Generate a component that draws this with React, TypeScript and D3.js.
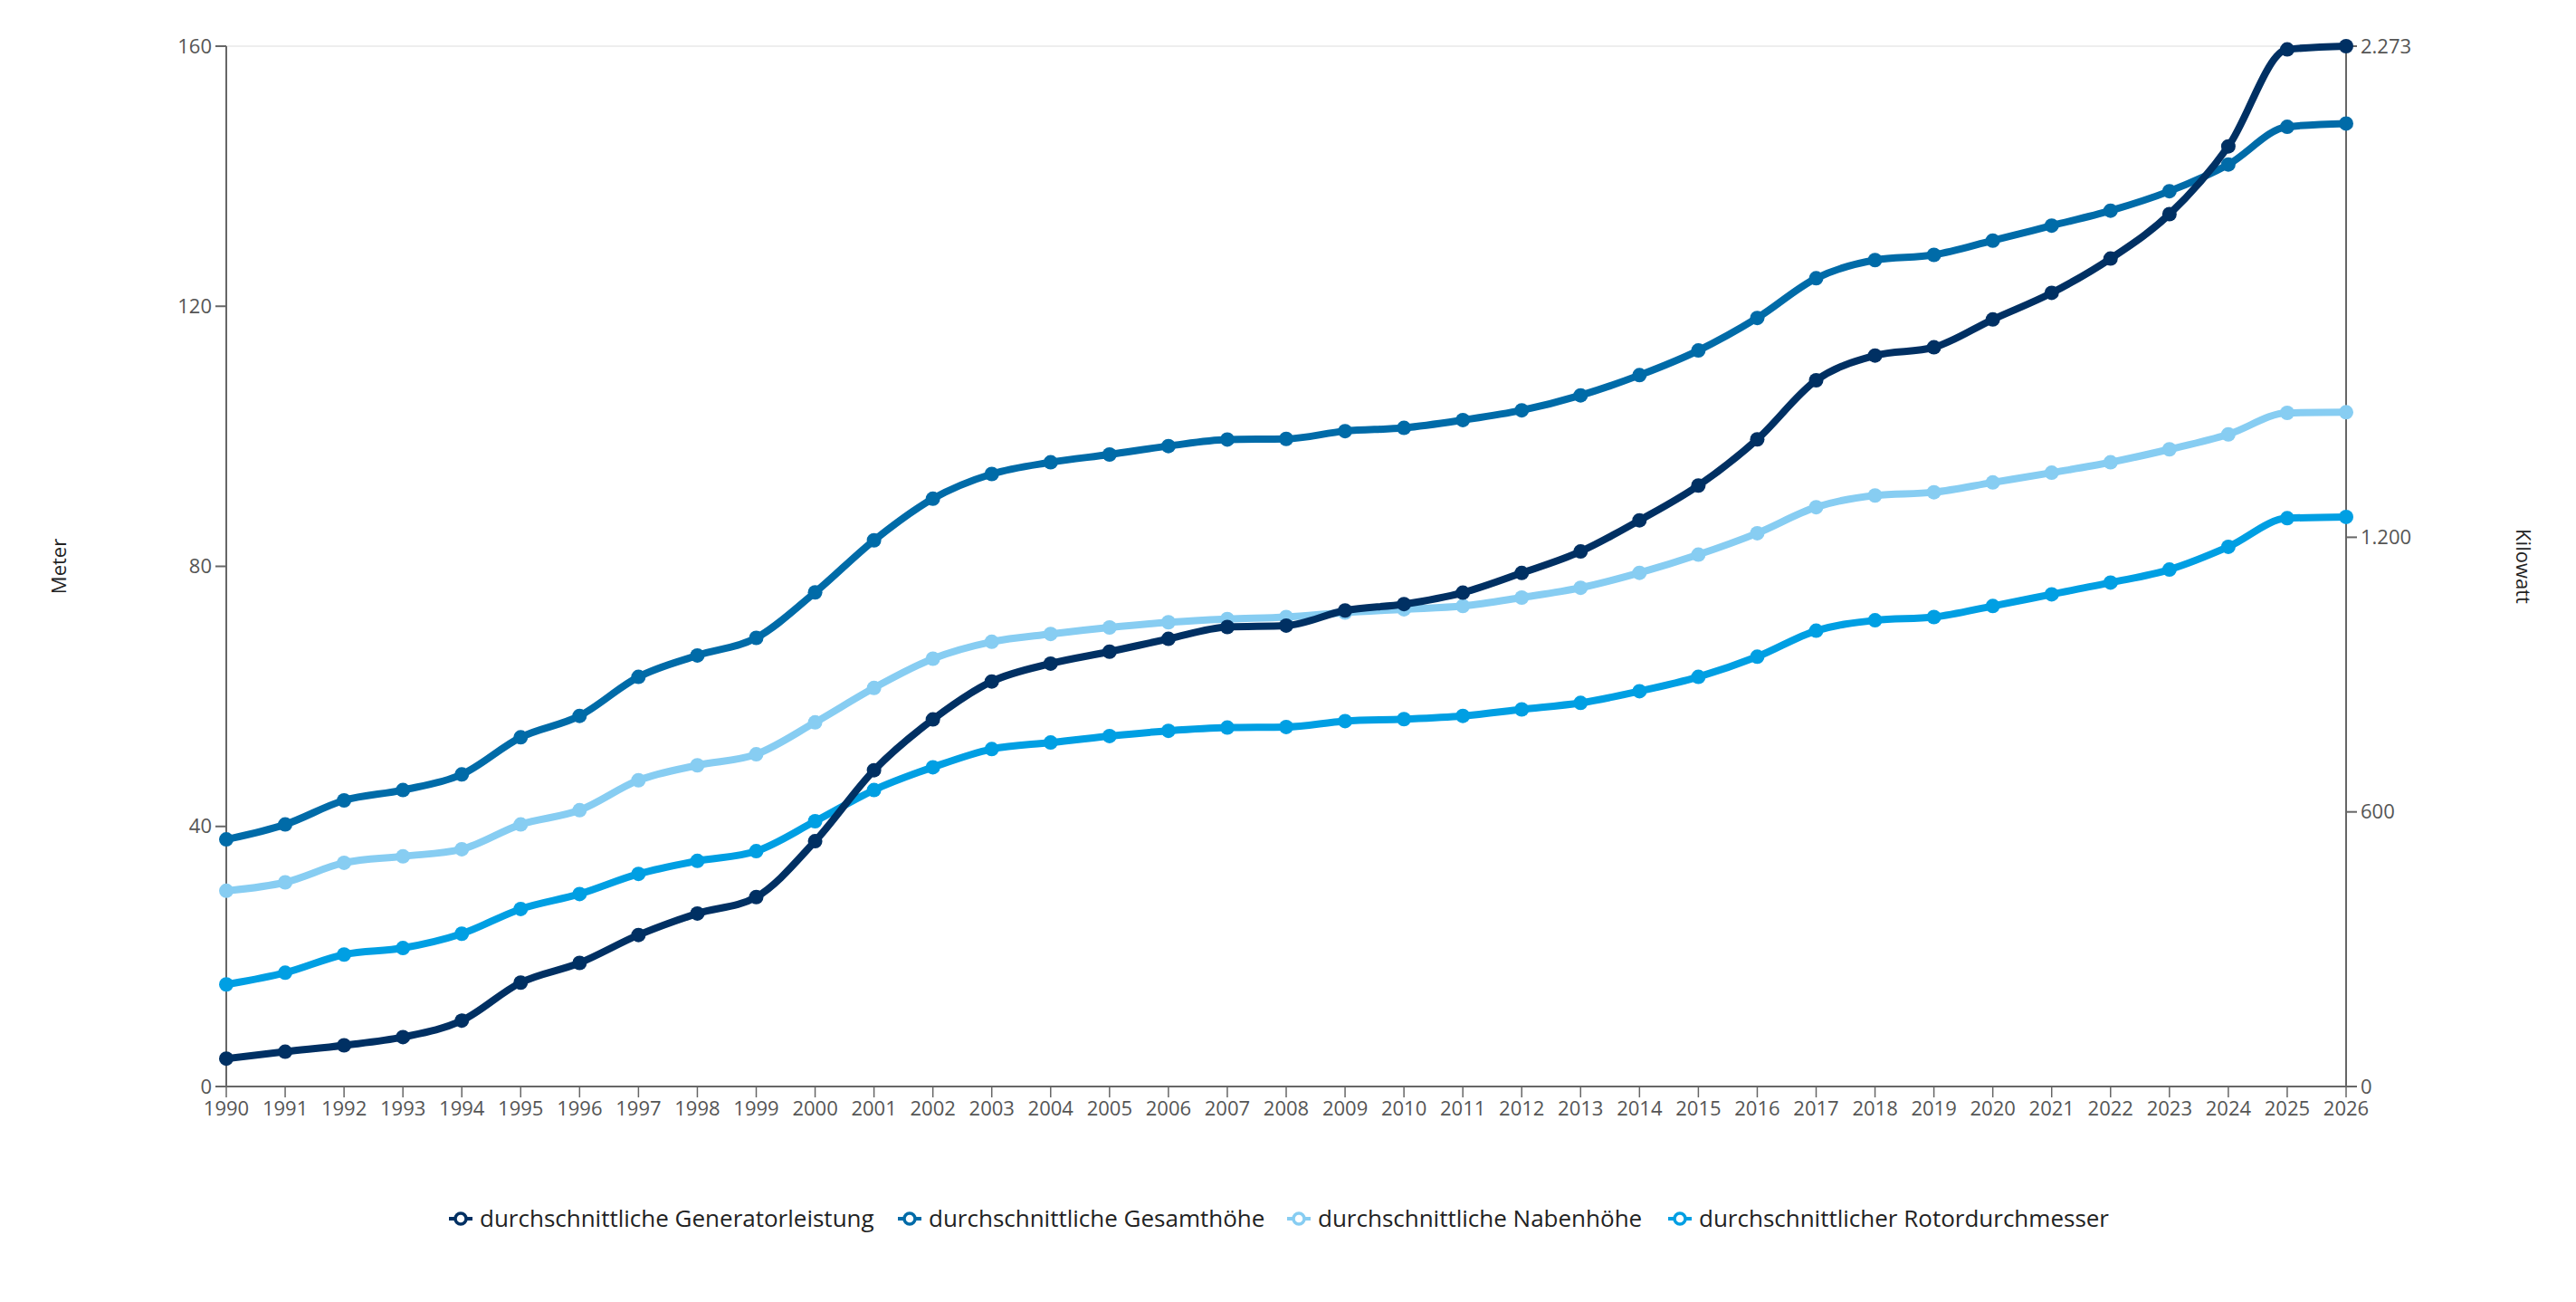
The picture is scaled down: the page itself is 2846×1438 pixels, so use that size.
import React from "react";
import * as d3 from "d3";

const years = d3.range(1990, 2027);
const generator = [61, 76, 90, 108, 144, 227, 270, 331, 378, 414, 536, 691, 802, 885, 924, 950, 978, 1004, 1007, 1040, 1054, 1079, 1122, 1169, 1237, 1313, 1414, 1543, 1597, 1615, 1676, 1734, 1809, 1906, 2054, 2266, 2273];
const gesamthoehe = [38, 40.3, 44, 45.6, 48, 53.7, 57, 63, 66.3, 69, 76, 84, 90.4, 94.2, 96, 97.2, 98.5, 99.5, 99.6, 100.8, 101.3, 102.5, 104, 106.3, 109.4, 113.2, 118.2, 124.3, 127.1, 127.9, 130.1, 132.4, 134.7, 137.7, 141.8, 147.6, 148.1];
const nabenhoehe = [30.1, 31.4, 34.4, 35.4, 36.5, 40.3, 42.5, 47.1, 49.4, 51.1, 56, 61.3, 65.8, 68.4, 69.6, 70.6, 71.4, 71.9, 72.2, 72.9, 73.4, 73.9, 75.2, 76.7, 79, 81.8, 85.1, 89.1, 90.9, 91.4, 92.9, 94.4, 96, 98, 100.3, 103.6, 103.7];
const rotor = [15.7, 17.5, 20.3, 21.3, 23.5, 27.3, 29.6, 32.7, 34.7, 36.2, 40.8, 45.6, 49.1, 51.9, 52.9, 53.9, 54.7, 55.2, 55.3, 56.2, 56.5, 57, 58, 59, 60.8, 63, 66.1, 70.1, 71.7, 72.2, 73.9, 75.7, 77.5, 79.5, 83, 87.4, 87.6];

const leftTicks = [0, 40, 80, 120, 160];
const rightTicks = [0, 600, 1200, 2273];

const series = [
  { name: "durchschnittliche Generatorleistung", values: generator, color: "#003063", axis: "right", legendX: 496 },
  { name: "durchschnittliche Gesamthöhe", values: gesamthoehe, color: "#006ba8", axis: "left", legendX: 992 },
  { name: "durchschnittliche Nabenhöhe", values: nabenhoehe, color: "#87cdf2", axis: "left", legendX: 1422 },
  { name: "durchschnittlicher Rotordurchmesser", values: rotor, color: "#009fe3", axis: "left", legendX: 1843 },
];

const W = 2846, H = 1438;
const L = 250, R = 2592, T = 51, B = 1200;
const font = "'Open Sans', 'Noto Sans', sans-serif";
const axisColor = "#666";
const textColor = "#555";

const App = () => {
  const x = d3.scaleLinear().domain([1990, 2026]).range([L, R]);
  const yL = d3.scaleLinear().domain([0, 160]).range([B, T]);
  const yR = d3.scaleLinear().domain([0, 2273]).range([B, T]);
  const draw = [...series].reverse();
  const fmt = (v: number) => d3.format(",")(v).replace(/,/g, ".");

  return (
    <svg width={W} height={H} style={{ position: "absolute", left: 0, top: 0, fontFamily: font }}>
      <line x1={L} x2={R} y1={T} y2={T} stroke="#eee" strokeWidth={2} />
      {/* left axis */}
      <line x1={L} x2={L} y1={T} y2={B} stroke={axisColor} strokeWidth={2} />
      {leftTicks.map(t => (
        <g key={t}>
          <line x1={L - 12} x2={L} y1={yL(t)} y2={yL(t)} stroke={axisColor} strokeWidth={2} />
          <text x={L - 16} y={yL(t)} dy="0.35em" textAnchor="end" fontSize={22} fill={textColor}>{t}</text>
        </g>
      ))}
      {/* right axis */}
      <line x1={R} x2={R} y1={T} y2={B} stroke={axisColor} strokeWidth={2} />
      {rightTicks.map(t => (
        <g key={t}>
          <line x1={R} x2={R + 12} y1={yR(t)} y2={yR(t)} stroke={axisColor} strokeWidth={2} />
          <text x={R + 16} y={yR(t)} dy="0.35em" textAnchor="start" fontSize={22} fill={textColor}>{fmt(t)}</text>
        </g>
      ))}
      {/* x axis */}
      <line x1={L} x2={R} y1={B} y2={B} stroke={axisColor} strokeWidth={2} />
      {years.map(yr => (
        <g key={yr}>
          <line x1={x(yr)} x2={x(yr)} y1={B} y2={B + 12} stroke={axisColor} strokeWidth={1.5} />
          <text x={x(yr)} y={B + 32} textAnchor="middle" fontSize={22} fill={textColor}>{yr}</text>
        </g>
      ))}
      <text transform={`translate(73,${(T + B) / 2}) rotate(-90)`} textAnchor="middle" fontSize={22} fill="#222">Meter</text>
      <text transform={`translate(2780,${(T + B) / 2}) rotate(90)`} textAnchor="middle" fontSize={22} fill="#222">Kilowatt</text>
      {draw.map(s => {
        const y = s.axis === "left" ? yL : yR;
        const line = d3.line<number>().x((_, i) => x(years[i])).y(v => y(v)).curve(d3.curveMonotoneX);
        return (
          <g key={s.name}>
            <path d={line(s.values) || ""} fill="none" stroke={s.color} strokeWidth={8} strokeLinejoin="round" strokeLinecap="round" />
            {s.values.map((v, i) => (
              <circle key={i} cx={x(years[i])} cy={y(v)} r={8} fill={s.color} />
            ))}
          </g>
        );
      })}
      {series.map(s => (
        <g key={s.name} transform={`translate(${s.legendX},1346)`}>
          <line x1={0} x2={26} y1={0} y2={0} stroke={s.color} strokeWidth={4} />
          <circle cx={13} cy={0} r={6} fill="#fff" stroke={s.color} strokeWidth={3.5} />
          <text x={34} y={0} dy="0.35em" fontSize={26} fill="#222">{s.name}</text>
        </g>
      ))}
    </svg>
  );
};

export default App;
